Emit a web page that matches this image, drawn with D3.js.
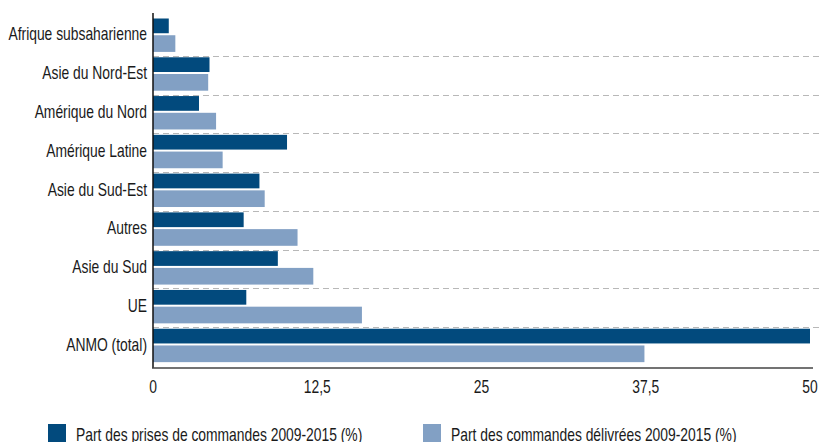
<!DOCTYPE html>
<html><head><meta charset="utf-8">
<script src="https://cdn.jsdelivr.net/npm/d3@7"></script>
<style>
html,body{margin:0;padding:0;background:#fff;}
svg text{font-family:"Liberation Sans",Arial,sans-serif;fill:#1a1a1a;}
</style></head>
<body><svg id="c" width="821" height="442"></svg>
<script>
const categories = ["Afrique subsaharienne","Asie du Nord-Est","Amérique du Nord","Amérique Latine","Asie du Sud-Est","Autres","Asie du Sud","UE","ANMO (total)"];
const prises = [1.2, 4.3, 3.5, 10.2, 8.1, 6.9, 9.5, 7.1, 50.0];
const delivrees = [1.7, 4.2, 4.8, 5.3, 8.5, 11.0, 12.2, 15.9, 37.4];
const ticks = [0, 12.5, 25, 37.5, 50];
const seriesNames = ["Part des prises de commandes 2009-2015 (%)", "Part des commandes délivrées 2009-2015 (%)"];
const colors = ["#024A7D", "#82A0C4"];

const SX = 0.77, FS = 18;
const svg = d3.select("#c");
const x = d3.scaleLinear().domain([0, 50]).range([153, 810]);
const y = d3.scaleBand().domain(categories).range([18, 367]).padding(0);
const bw = y.bandwidth();

function ctext(sel, tx, ty, anchor, str) {
  return sel.append("text")
    .attr("transform", `translate(${tx},${ty}) scale(${SX},1)`)
    .attr("text-anchor", anchor).attr("font-size", FS).text(str);
}

// dashed separators
svg.selectAll("line.sep").data(categories.slice(1)).enter().append("line")
  .attr("x1", 153).attr("x2", 821)
  .attr("y1", d => Math.round(y(d)) - 0.5).attr("y2", d => Math.round(y(d)) - 0.5)
  .attr("stroke", "#b8b8b8").attr("stroke-width", 1.2).attr("stroke-dasharray", "6,4");

const g = svg.append("g");
categories.forEach((c, i) => {
  const y0 = y(c);
  g.append("rect").attr("x", x(0)).attr("y", y0 + 0.5)
    .attr("width", x(prises[i]) - x(0)).attr("height", bw * 0.38).attr("fill", colors[0]);
  g.append("rect").attr("x", x(0)).attr("y", y0 + 0.5 + bw * 0.38 + 2)
    .attr("width", x(delivrees[i]) - x(0)).attr("height", bw * 0.43).attr("fill", colors[1]);
});

// y labels
const yl = svg.append("g");
categories.forEach(c => ctext(yl, 147, y(c) + bw / 2 + 3, "end", c));

// axes lines
svg.append("line").attr("x1", 153).attr("x2", 153).attr("y1", 13).attr("y2", 368)
  .attr("stroke", "#111").attr("stroke-width", 1.5);
svg.append("line").attr("x1", 152).attr("x2", 813).attr("y1", 368).attr("y2", 368)
  .attr("stroke", "#444").attr("stroke-width", 1.5);

// x tick labels
const xl = svg.append("g");
ticks.forEach(t => ctext(xl, x(t), 393, "middle", String(t).replace(".", ",")));

// legend
const legX = [48, 423];
seriesNames.forEach((n, i) => {
  svg.append("rect").attr("x", legX[i]).attr("y", 424).attr("width", 18).attr("height", 18).attr("fill", colors[i]);
  ctext(svg, legX[i] + 28, 441, "start", n);
});
</script></body></html>
